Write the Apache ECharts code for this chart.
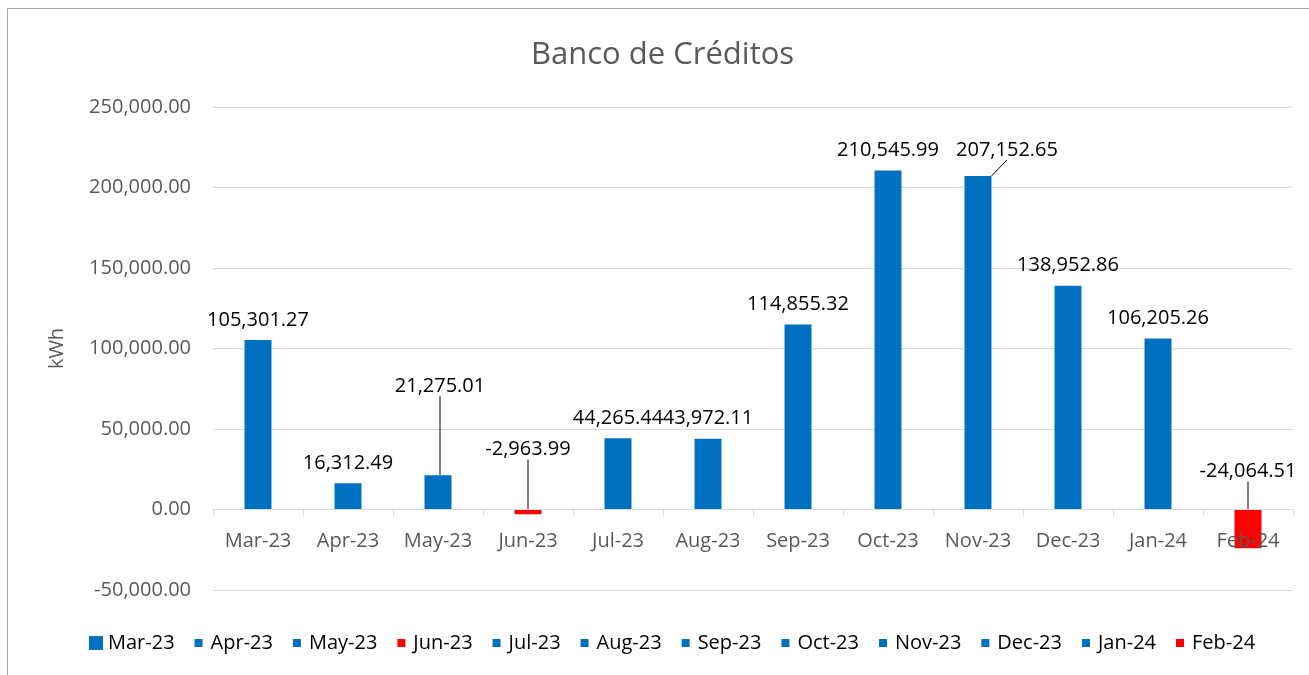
<!DOCTYPE html>
<html>
<head>
<meta charset="utf-8">
<script src="https://cdn.jsdelivr.net/npm/echarts@6/dist/echarts.min.js"></script>
<style>
  html, body { margin: 0; padding: 0; background: #fff; }
  #main { width: 1309px; height: 675px; }
</style>
</head>
<body>
<div id="main"></div>
<script>
var chartDom = document.getElementById('main');
var myChart = echarts.init(chartDom);
var option;

// Months shown on the category axis (and in the legend)
const months = [
  'Mar-23', 'Apr-23', 'May-23', 'Jun-23', 'Jul-23', 'Aug-23',
  'Sep-23', 'Oct-23', 'Nov-23', 'Dec-23', 'Jan-24', 'Feb-24'
];
// Credit bank balance per month, kWh
const credits = [
  105301.27, 16312.49, 21275.01, -2963.99, 44265.44, 43972.11,
  114855.32, 210545.99, 207152.65, 138952.86, 106205.26, -24064.51
];
// Value axis range and step
const yMin = -50000;
const yMax = 250000;
const yStep = 50000;

// Labels that were dragged away from their bar in the original (dx, dy in px)
const labelShift = [
  [0, 0], [0, 0], [2, -69], [0, -40], [0, 0], [0, 0],
  [0, 0], [0, 0], [29, -6], [0, 0], [0, 0], [0, -18]
];

const FONT = 'Open Sans';
const fmt = function (v) {
  return Number(v).toLocaleString('en-US', { minimumFractionDigits: 2, maximumFractionDigits: 2 });
};

// small legend marker: 8px square inside a 14px box
const smallIcon = 'path://M0,0M14,14M3,3L11,3L11,11L3,11Z';

let series = [];
let legendData = [];
months.forEach(function (m, i) {
  const moved = labelShift[i][0] !== 0 || labelShift[i][1] !== 0;
  series.push({
    name: m,
    type: 'bar',
    stack: 'all',
    barWidth: 27,
    data: months.map(function (_, j) { return j === i ? credits[i] : '-'; }),
    itemStyle: { color: credits[i] < 0 ? '#FF0000' : '#0070C0' },
    label: {
      show: true,
      position: 'top',
      distance: 10,
      color: '#000',
      fontFamily: FONT,
      fontSize: 20,
      formatter: function (p) { return fmt(p.value); }
    },
    labelLayout: { dx: labelShift[i][0], dy: labelShift[i][1] },
    labelLine: { show: moved, lineStyle: { color: '#000', width: 1 } }
  });
  legendData.push({ name: m, icon: i === 0 ? 'rect' : smallIcon });
});

option = {
  animation: false,
  title: {
    text: 'Banco de Créditos',
    left: 526,
    top: 35,
    textStyle: { fontFamily: FONT, fontSize: 31, fontWeight: 'normal', color: '#595959' }
  },
  legend: {
    data: legendData,
    left: 84,
    bottom: 17,
    itemWidth: 14,
    itemHeight: 14,
    itemGap: 17,
    textStyle: { fontFamily: FONT, fontSize: 20, color: '#000' }
  },
  grid: { left: 213, right: 16, top: 107, bottom: 85 },
  xAxis: {
    type: 'category',
    data: months,
    z: 3,
    axisLine: { onZero: true, lineStyle: { color: '#d9d9d9', width: 1 } },
    axisTick: { show: true, length: 6, lineStyle: { color: '#d9d9d9' } },
    // labels sit just under the zero line, not at the grid bottom
    axisLabel: { interval: 0, margin: -59, color: '#595959', fontFamily: FONT, fontSize: 20 }
  },
  yAxis: {
    type: 'value',
    min: yMin,
    max: yMax,
    interval: yStep,
    name: 'kWh',
    nameLocation: 'middle',
    nameGap: 146,
    nameTextStyle: { color: '#595959', fontFamily: FONT, fontSize: 20 },
    axisLine: { show: false },
    axisTick: { show: false },
    splitLine: { lineStyle: { color: '#d9d9d9', width: 1 } },
    axisLabel: { margin: 22, color: '#595959', fontFamily: FONT, fontSize: 20, formatter: fmt }
  },
  graphic: [{
    type: 'rect',
    shape: { x: 7.5, y: 8.5, width: 1400, height: 700 },
    style: { fill: 'none', stroke: '#a6a6a6', lineWidth: 1 },
    silent: true
  }],
  series: series
};

option && myChart.setOption(option);
</script>
</body>
</html>
